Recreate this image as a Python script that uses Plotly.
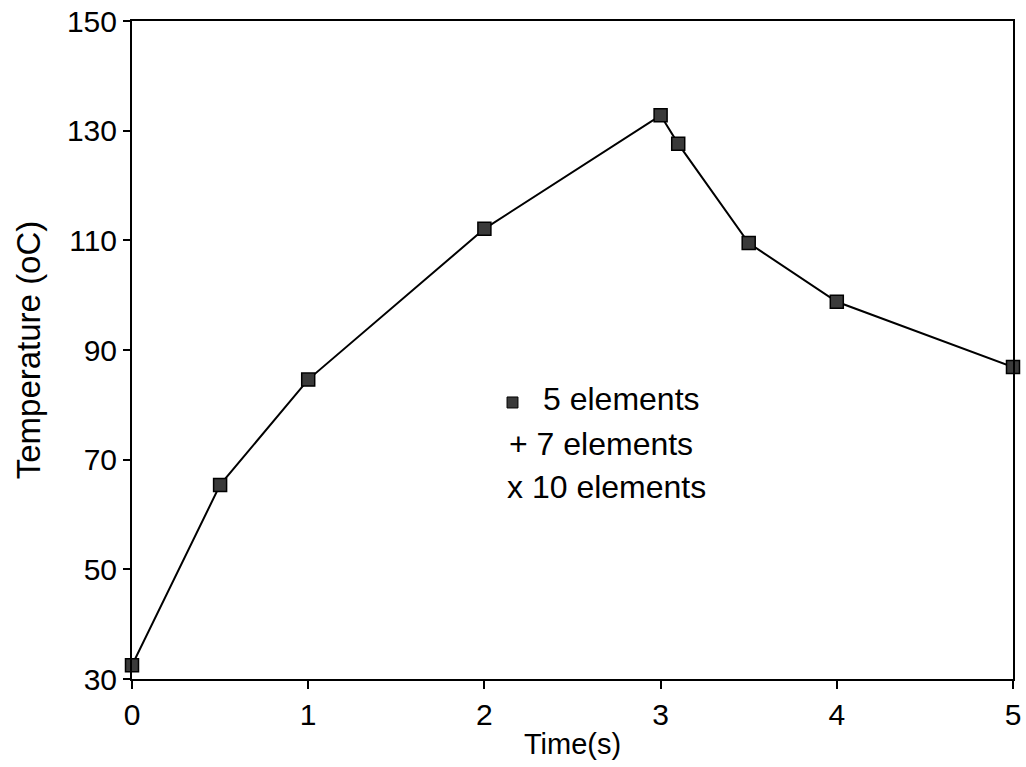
import plotly.graph_objects as go

time_s = [0, 0.5, 1, 2, 3, 3.1, 3.5, 4, 5]
temp_5 = [32.5, 65.4, 84.6, 112.1, 132.8, 127.6, 109.5, 98.8, 86.9]

x_ticks = [0, 1, 2, 3, 4, 5]
y_ticks = [30, 50, 70, 90, 110, 130, 150]

legend_labels = ["5 elements", "+ 7 elements", "x 10 elements"]

FONT = "Liberation Sans, Arial, Helvetica, sans-serif"

fig = go.Figure()
fig.add_trace(go.Scatter(
    x=time_s, y=temp_5, mode="lines+markers",
    line=dict(color="black", width=2),
    marker=dict(symbol="square", size=13, color="#3a3a3a",
                line=dict(color="black", width=1.5)),
    showlegend=False, cliponaxis=False,
))

fig.update_layout(
    width=1026, height=767,
    margin=dict(l=132, r=13, t=21, b=88),
    paper_bgcolor="white", plot_bgcolor="white",
    font=dict(family=FONT, size=30, color="black"),
    showlegend=False,
    xaxis=dict(
        range=[0, 5], tickvals=x_ticks, ticktext=[str(v) for v in x_ticks],
        showgrid=False, zeroline=False, automargin=False,
        ticklabeloverflow="allow",
        showline=True, linecolor="black", linewidth=2, mirror=True,
        ticks="outside", ticklen=8, tickwidth=2, tickcolor="black",
        tickfont=dict(size=30),
        title=dict(text="Time(s)", font=dict(size=29), standoff=4),
    ),
    yaxis=dict(
        range=[30, 150], tickvals=y_ticks, ticktext=[str(v) for v in y_ticks],
        showgrid=False, zeroline=False, automargin=False,
        ticklabeloverflow="allow",
        showline=True, linecolor="black", linewidth=2, mirror=True,
        ticks="outside", ticklen=7, tickwidth=2, tickcolor="black",
        tickfont=dict(size=30),
        title=dict(text="Temperature (oC)", font=dict(size=33), standoff=16),
    ),
)

# legend drawn inside plot
fig.add_shape(type="rect", xref="paper", yref="paper",
              x0=0.4257, x1=0.4381, y0=0.4119, y1=0.4286,
              fillcolor="#3a3a3a", line=dict(color="black", width=1))
leg_pos = [(0.4642, 0.4255), (0.4256, 0.357), (0.4234, 0.2918)]
for (px, py), txt in zip(leg_pos, legend_labels):
    fig.add_annotation(x=px, y=py, xref="paper", yref="paper",
                       text=txt, showarrow=False, xanchor="left", yanchor="middle",
                       font=dict(size=32, family=FONT, color="black"))

fig.write_html(
    "out.html",
    config={"displayModeBar": False},
    post_script="document.body.style.margin='0';document.body.style.overflow='hidden';",
)
